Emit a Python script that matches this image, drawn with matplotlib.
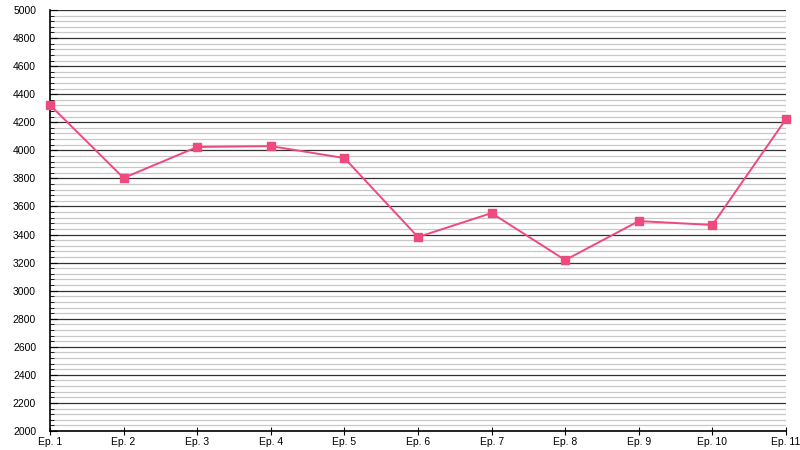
import numpy as np
import matplotlib
matplotlib.use("Agg")
from matplotlib import pyplot as plt
from matplotlib.ticker import MultipleLocator

episodes = ["Ep. 1", "Ep. 2", "Ep. 3", "Ep. 4", "Ep. 5", "Ep. 6",
            "Ep. 7", "Ep. 8", "Ep. 9", "Ep. 10", "Ep. 11"]
values = [4323, 3803, 4024, 4030, 3945, 3382, 3553, 3218, 3496, 3468, 4223]

plt.rcParams['font.family'] = ['Liberation Sans', 'DejaVu Sans']

fig = plt.figure(figsize=(8, 4.5), dpi=100)
ax = fig.add_axes([50/800, 19/450, 736/800, 421/450])

x = np.arange(len(episodes))
ax.plot(x, values, color='#ee4a7d', lw=1.4, marker='s', ms=5.5,
        mfc='#ee4a7d', mec='#ee4a7d', zorder=3, clip_on=False)

ax.set_xlim(0, len(episodes) - 1)
ax.set_ylim(2000, 5000)
ax.set_xticks(x)
ax.set_xticklabels(episodes)
ax.yaxis.set_major_locator(MultipleLocator(200))
ax.yaxis.set_minor_locator(MultipleLocator(40))

ax.grid(axis='y', which='major', color='#333333', lw=0.9)
ax.grid(axis='y', which='minor', color='#c8c8c8', lw=0.9)
ax.set_axisbelow(True)

for s in ['top', 'right']:
    ax.spines[s].set_visible(False)
ax.spines['left'].set_linewidth(1.2)
ax.spines['bottom'].set_linewidth(1.2)

ax.tick_params(axis='y', which='major', direction='in', length=5, labelsize=7.5, pad=10)
ax.tick_params(axis='y', which='minor', direction='in', length=3)
ax.tick_params(axis='x', direction='inout', length=6, labelsize=7.5, pad=1)

fig.savefig('out.png', dpi=100)
